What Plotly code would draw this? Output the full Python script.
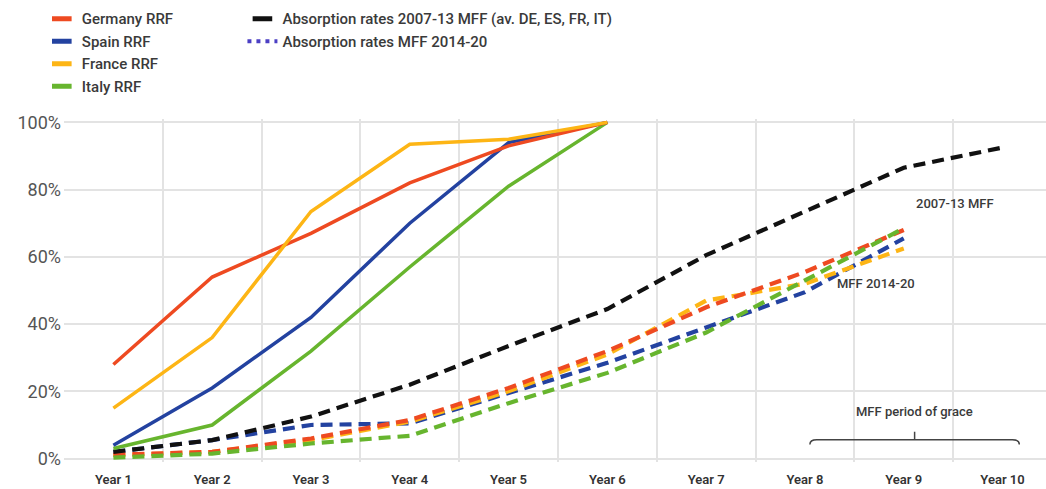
import plotly.graph_objects as go

# Category axis
years = ["Year 1", "Year 2", "Year 3", "Year 4", "Year 5",
         "Year 6", "Year 7", "Year 8", "Year 9", "Year 10"]

# RRF absorption paths (share of allocation, %)
germany_rrf = [28, 54, 67, 82, 93, 100]
spain_rrf = [4, 21, 42, 70, 94, 100]
france_rrf = [15, 36, 73.5, 93.5, 95, 100]
italy_rrf = [3, 10, 32, 57, 81, 100]

# Average absorption 2007-13 MFF (DE, ES, FR, IT)
mff_2007_13 = [2, 5.5, 12.5, 22, 33.5, 44.5, 60.5, 73.5, 86.5, 92.5]

# Absorption 2014-20 MFF by country
germany_mff = [1.2, 2, 6, 11.5, 21, 32, 45, 55.5, 68]
spain_mff = [2, 5.5, 10, 10.5, 19.5, 28.5, 39, 49.5, 65.5]
france_mff = [1, 2, 5.5, 11, 20, 31, 47, 52, 62.5]
italy_mff = [0.3, 1.5, 4.5, 6.8, 16.5, 25.5, 37.5, 53, 68.5]

RED = "#EE4A21"
BLUE = "#2342A0"
YELLOW = "#FDB515"
GREEN = "#67B52E"
BLACK = "#111111"
DOTS = "#4B3FC4"

TEXT = "#3a3a3a"
GRID = "#e3e3e3"
FONT = "Roboto"

fig = go.Figure()

solid_w = 3.5
dash_w = 4.2
dash_style = "12px,7px"

# dashed 2014-20 MFF lines (drawn first, underneath)
for vals, col in [(spain_mff, BLUE), (france_mff, YELLOW),
                  (germany_mff, RED), (italy_mff, GREEN)]:
    fig.add_trace(go.Scatter(
        x=years[:len(vals)], y=vals, mode="lines",
        line=dict(color=col, width=dash_w, dash=dash_style),
        showlegend=False, hoverinfo="skip"))

# dashed 2007-13 MFF average
fig.add_trace(go.Scatter(
    x=years[:len(mff_2007_13)], y=mff_2007_13, mode="lines",
    line=dict(color=BLACK, width=dash_w, dash=dash_style),
    showlegend=False, hoverinfo="skip"))

# solid RRF lines
for vals, col in [(italy_rrf, GREEN), (spain_rrf, BLUE),
                  (germany_rrf, RED), (france_rrf, YELLOW)]:
    fig.add_trace(go.Scatter(
        x=years[:len(vals)], y=vals, mode="lines",
        line=dict(color=col, width=solid_w),
        showlegend=False, hoverinfo="skip"))

# legend entries (short bar swatches)
legend_items = [
    ("Germany RRF", RED, "legend"),
    ("Spain RRF", BLUE, "legend"),
    ("France RRF", YELLOW, "legend"),
    ("Italy RRF", GREEN, "legend"),
    ("Absorption rates 2007-13 MFF (av. DE, ES, FR, IT)", BLACK, "legend2"),
]
for name, col, lg in legend_items:
    fig.add_trace(go.Scatter(
        x=[None], y=[None], mode="markers", name=name, legend=lg,
        marker=dict(symbol="line-ew", size=14,
                    line=dict(color=col, width=5))))
fig.add_trace(go.Scatter(
    x=[None], y=[None], mode="lines", name="Absorption rates MFF 2014-20",
    legend="legend2",
    line=dict(color=DOTS, width=4, dash="4px,5px")))

legend_font = dict(family=FONT, size=15, color=TEXT, weight=500)

fig.update_layout(
    width=1046, height=489,
    margin=dict(l=64, r=0, t=119, b=27, autoexpand=False),
    paper_bgcolor="white", plot_bgcolor="white",
    font=dict(family=FONT, color=TEXT),
    legend=dict(xref="paper", yref="paper", x=-0.0226, y=1.34,
                xanchor="left", yanchor="top", font=legend_font,
                bgcolor="rgba(0,0,0,0)", itemwidth=30, tracegroupgap=0),
    legend2=dict(xref="paper", yref="paper", x=0.1817, y=1.34,
                 xanchor="left", yanchor="top", font=legend_font,
                 bgcolor="rgba(0,0,0,0)", itemwidth=30, tracegroupgap=0),
    xaxis=dict(
        type="category", categoryorder="array", categoryarray=years,
        range=[-0.5, 9.44], tickson="boundaries", ticks="",
        showgrid=True, gridcolor=GRID, gridwidth=2,
        showline=False, zeroline=False, tickangle=0,
        ticklabelstandoff=8,
        tickfont=dict(family=FONT, size=13, color="#333333", weight=600),
    ),
    yaxis=dict(
        range=[-1, 101], tickvals=[0, 20, 40, 60, 80, 100],
        ticktext=["0%", "20%", "40%", "60%", "80%", "100%"],
        showgrid=True, gridcolor=GRID, gridwidth=2,
        zeroline=False, showline=False, ticks="",
        ticklabelstandoff=2,
        tickfont=dict(family=FONT, size=18, color="#555555"),
    ),
)

# line labels
ann_font = dict(family=FONT, size=13, color=TEXT, weight=500)
fig.add_annotation(x=8.52, y=76, xref="x", yref="y", text="2007-13 MFF",
                   showarrow=False, font=ann_font)
fig.add_annotation(x=7.72, y=52.2, xref="x", yref="y", text="MFF 2014-20",
                   showarrow=False, font=ann_font)
fig.add_annotation(x=8.11, y=14, xref="x", yref="y",
                   text="MFF period of grace", showarrow=False, font=ann_font)

# brace marking the grace period (Year 8 to Year 10)
brace = dict(color="#444444", width=1.5)
fig.add_shape(type="path", xref="x", yref="y", line=brace,
              path="M 7.05,4.2 Q 7.05,5.6 7.12,5.6 L 9.1,5.6 Q 9.17,5.6 9.17,4.2")
fig.add_shape(type="line", xref="x", yref="y", line=brace,
              x0=8.11, x1=8.11, y0=5.6, y1=8)

fig.write_html("out.html")
